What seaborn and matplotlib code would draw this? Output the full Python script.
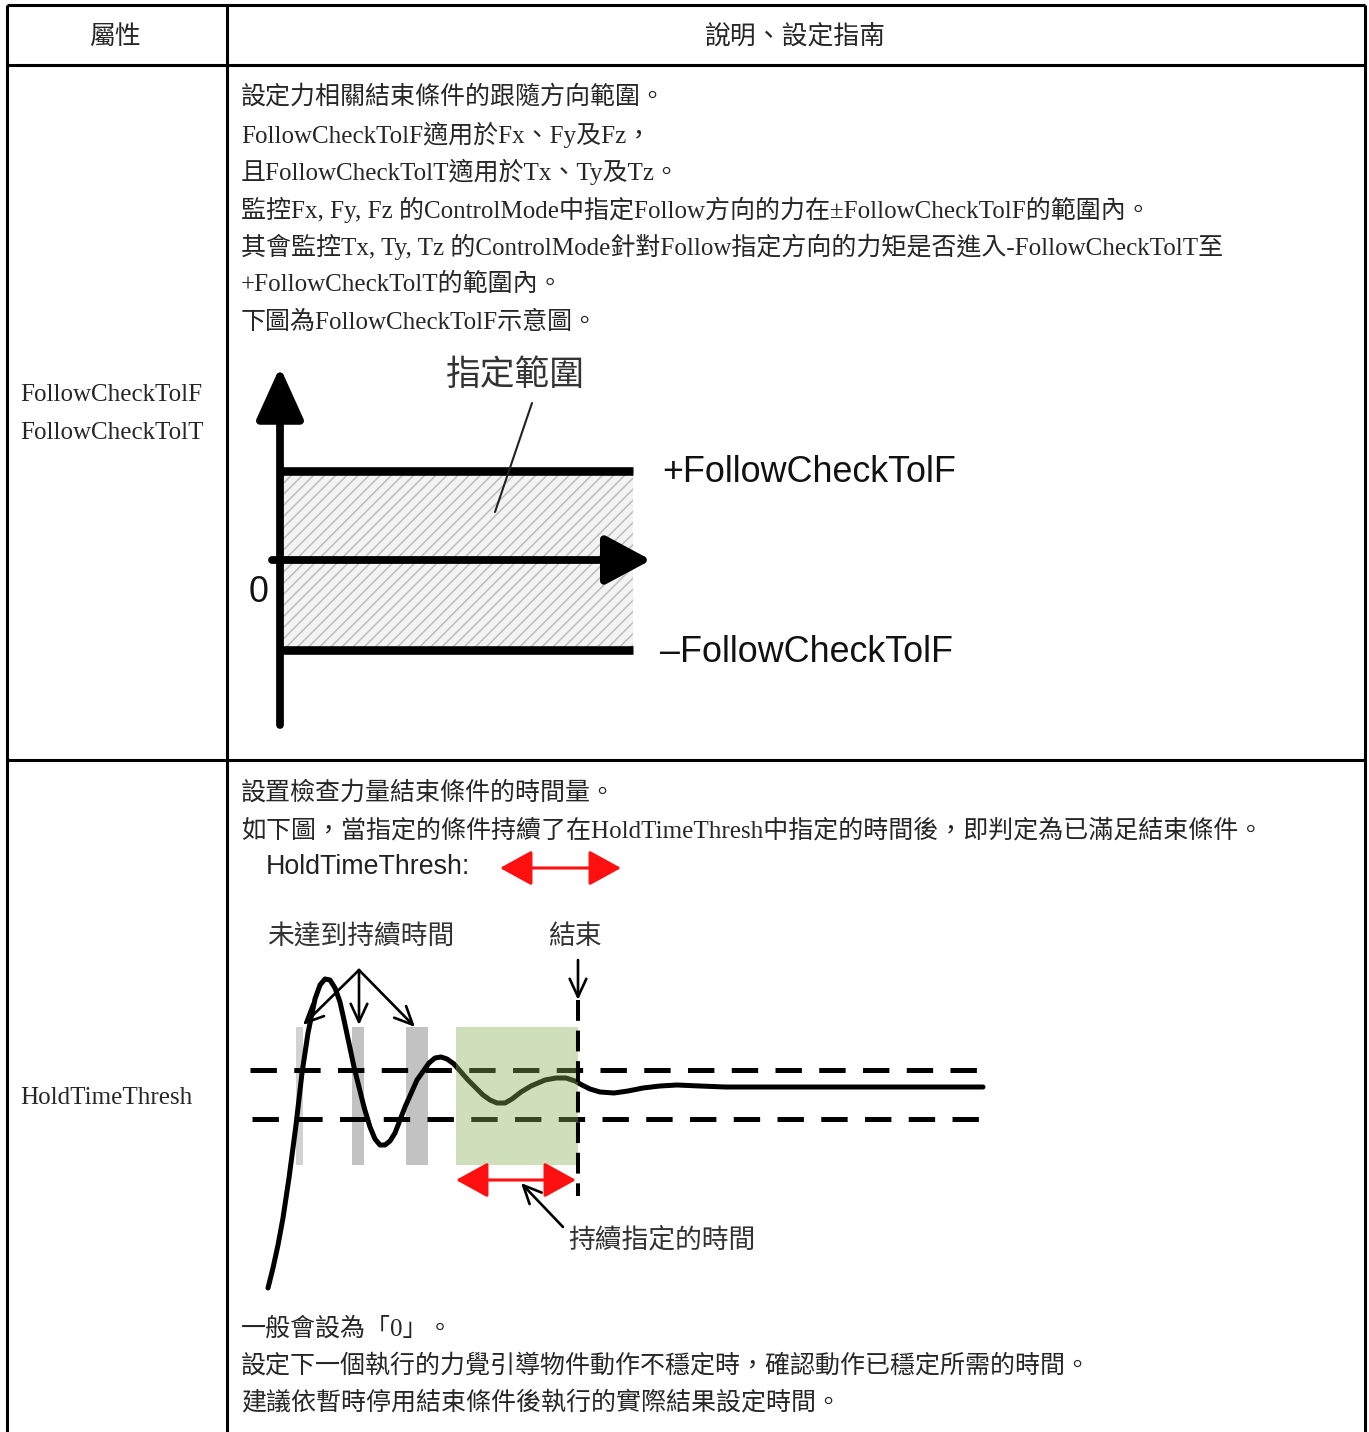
import matplotlib
matplotlib.use("Agg")
import matplotlib.pyplot as plt
import seaborn as sns

# ---- table text ----
header_labels = ["屬性", "說明、設定指南"]
row1_name = ["FollowCheckTolF", "FollowCheckTolT"]
row1_lines = [
    "設定力相關結束條件的跟隨方向範圍。",
    "FollowCheckTolF適用於Fx、Fy及Fz，",
    "且FollowCheckTolT適用於Tx、Ty及Tz。",
    "監控Fx, Fy, Fz 的ControlMode中指定Follow方向的力在±FollowCheckTolF的範圍內。",
    "其會監控Tx, Ty, Tz 的ControlMode針對Follow指定方向的力矩是否進入-FollowCheckTolT至",
    "+FollowCheckTolT的範圍內。",
    "下圖為FollowCheckTolF示意圖。",
]
row2_name = "HoldTimeThresh"
row2_lines_top = [
    "設置檢查力量結束條件的時間量。",
    "如下圖，當指定的條件持續了在HoldTimeThresh中指定的時間後，即判定為已滿足結束條件。",
]
row2_lines_bottom = [
    "一般會設為「0」。",
    "設定下一個執行的力覺引導物件動作不穩定時，確認動作已穩定所需的時間。",
    "建議依暫時停用結束條件後執行的實際結果設定時間。",
]

# ---- diagram 1: tolerance band (pixel units of the page) ----
tol_upper = 471
tol_lower = 650
zero_level = 560
band_x = [280, 633]
band_labels = ["+FollowCheckTolF", "\u2013FollowCheckTolF"]

# ---- diagram 2: response curve ----
curve_x = [268, 273, 278, 283, 289, 296, 302, 308, 315, 320, 325, 330, 335, 340, 344, 354, 364,
           370, 375, 380, 385, 390, 395, 405, 417, 429, 435, 441, 447, 454, 468, 483, 490, 497,
           505, 512, 521, 531, 545, 556, 566, 575, 582, 590, 600, 614, 628, 643, 660, 677, 700,
           725, 774, 871, 983]
curve_y = [1288, 1268, 1245, 1218, 1178, 1125, 1073, 1033, 999, 985, 979, 980, 988, 1002, 1020, 1067, 1107,
           1127, 1139, 1145, 1145, 1141, 1133, 1107, 1080, 1063, 1058, 1057, 1059, 1064, 1080, 1095, 1100, 1103,
           1103, 1099, 1092, 1086, 1080, 1078, 1078, 1081, 1085, 1089, 1092, 1093, 1091, 1088, 1086, 1085, 1086,
           1087, 1087, 1087, 1087]
band2_upper = 1070
band2_lower = 1119
gray_bar_left = [296, 352, 406]
gray_bar_width = [7, 12, 22]
gray_bar_color = ["#d2d2d2", "#c2c2c2", "#c2c2c2"]
hold_left, hold_right = 456, 578
bar_top, bar_bottom = 1027, 1165

sns.set_theme(style="white")
plt.rcParams["font.family"] = ["Liberation Serif", "Noto Sans CJK TC", "DejaVu Sans"]
plt.rcParams["lines.scale_dashes"] = False
plt.rcParams["hatch.linewidth"] = 1.1
plt.rcParams["hatch.color"] = "#bdbdbd"

fig = plt.figure(figsize=(13.69, 14.32), dpi=100)
ax = fig.add_axes([0, 0, 1, 1])

body = ["Liberation Serif", "Noto Sans CJK TC"]
fs = 18.0

# table grid
lw_grid = 2.2
ax.hlines([5, 65, 760], 7, 1365, color="black", lw=lw_grid)
ax.vlines([7, 227, 1365], 5, 1432, color="black", lw=lw_grid)

ax.text(116, 36, header_labels[0], ha="center", va="center", fontsize=18.6,
        family=["Noto Sans CJK TC"])
ax.text(796, 36, header_labels[1], ha="center", va="center", fontsize=18.6,
        family=["Noto Sans CJK TC"])

for i, s in enumerate(row1_name):
    ax.text(20, 395 + 38 * i, s, va="center", fontsize=fs, family=body)
ax.text(20, 1098, row2_name, va="center", fontsize=fs, family=body)

for i, s in enumerate(row1_lines):
    ax.text(241, 97 + 37.5 * i, s, va="center", fontsize=fs, family=body)
for i, s in enumerate(row2_lines_top):
    ax.text(241, 793 + 37.5 * i, s, va="center", fontsize=fs, family=body)
for i, s in enumerate(row2_lines_bottom):
    ax.text(241, 1329 + 37 * i, s, va="center", fontsize=fs, family=body)

# ---- diagram 1 ----
ax.fill_between(band_x, tol_upper, tol_lower, facecolor="#f3f3f3", hatch="///",
                edgecolor="#bdbdbd", linewidth=0, zorder=1)
ax.hlines([tol_upper, tol_lower], band_x[0], band_x[1], color="black", lw=6.2, zorder=3)
ax.annotate("", xy=(280, 367), xytext=(280, 725),
            arrowprops=dict(arrowstyle="-|>,head_length=32,head_width=14.5",
                            mutation_scale=1, lw=5.6, color="black",
                            shrinkA=0, shrinkB=0), zorder=4)
ax.annotate("", xy=(651, zero_level), xytext=(272, zero_level),
            arrowprops=dict(arrowstyle="-|>,head_length=28,head_width=15",
                            mutation_scale=1, lw=5.6, color="black",
                            shrinkA=0, shrinkB=0), zorder=4)
ax.plot([532, 495], [403, 512], color="#222222", lw=1.5, zorder=4)
ax.text(515, 375, "指定範圍", ha="center", va="center", fontsize=25,
        family=["Noto Sans CJK TC"], fontweight="medium", color="#333333")
ax.text(662, 473, band_labels[0], va="center", fontsize=25.8,
        family=["Liberation Sans"], color="#111111")
ax.text(660, 652, band_labels[1], va="center", fontsize=25.8,
        family=["Liberation Sans"], color="#111111")
ax.text(259, 592, "0", ha="center", va="center", fontsize=25.8,
        family=["Liberation Sans"], color="#111111")

# ---- diagram 2 ----
ax.bar(gray_bar_left, bar_bottom - bar_top, width=gray_bar_width, bottom=bar_top,
       align="edge", color=gray_bar_color, linewidth=0, zorder=1)
ax.hlines([band2_upper, band2_lower], [250, 252], 988, color="black", lw=3.6,
          linestyles=[(0, (19, 12.5))], zorder=2)
sns.lineplot(x=curve_x, y=curve_y, sort=False, estimator=None, color="black",
             lw=3.6, ax=ax, zorder=3)
ax.fill_between([hold_left, hold_right], bar_top, bar_bottom, color="#89af57",
                alpha=0.4, linewidth=0, zorder=4)
ax.vlines(578, 1000, 1196, color="black", lw=2.9, linestyles=[(0, (15, 7))], zorder=5)

ax.text(266, 867, "HoldTimeThresh:", va="center", fontsize=19.3,
        family=["Liberation Sans"], color="#222222")
red_style = "<|-|>,head_length=20,head_width=11"
ax.annotate("", xy=(621, 868), xytext=(500, 868),
            arrowprops=dict(arrowstyle=red_style, mutation_scale=1, lw=2.2,
                            color="#ff1010", shrinkA=0, shrinkB=0), zorder=5)
ax.annotate("", xy=(576, 1180), xytext=(456, 1180),
            arrowprops=dict(arrowstyle=red_style, mutation_scale=1, lw=2.2,
                            color="#ff1010", shrinkA=0, shrinkB=0), zorder=5)

ax.text(267, 937, "未達到持續時間", va="center", fontsize=19.3,
        family=["Noto Sans CJK TC"], fontweight="medium", color="#333333")
ax.text(548, 937, "結束", va="center", fontsize=19.3,
        family=["Noto Sans CJK TC"], fontweight="medium", color="#333333")
ax.text(568, 1240, "持續指定的時間", va="center", fontsize=19.3,
        family=["Noto Sans CJK TC"], fontweight="medium", color="#333333")

open_style = "->,head_length=13,head_width=6"
for tip in [(303, 1025), (359, 1025), (415, 1027)]:
    ax.annotate("", xy=tip, xytext=(359, 970),
                arrowprops=dict(arrowstyle=open_style, mutation_scale=1, lw=1.9,
                                color="black", shrinkA=0, shrinkB=0), zorder=6)
ax.annotate("", xy=(578, 1000), xytext=(578, 960),
            arrowprops=dict(arrowstyle=open_style, mutation_scale=1, lw=1.9,
                            color="black", shrinkA=0, shrinkB=0), zorder=6)
ax.annotate("", xy=(521, 1183), xytext=(563, 1227),
            arrowprops=dict(arrowstyle=open_style, mutation_scale=1, lw=1.9,
                            color="black", shrinkA=0, shrinkB=0), zorder=6)

ax.set_xlim(0, 1369)
ax.set_ylim(1432, 0)
ax.axis("off")

fig.savefig("out.png", dpi=100, facecolor="white")
